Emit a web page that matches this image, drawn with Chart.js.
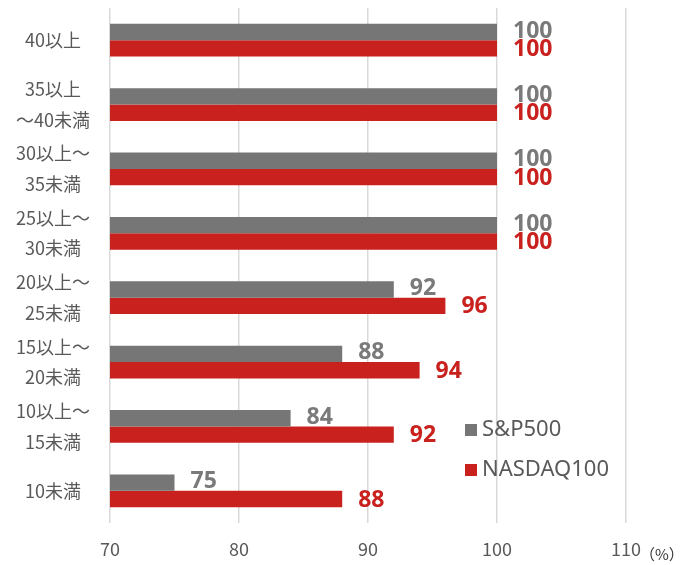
<!DOCTYPE html>
<html>
<head>
<meta charset="utf-8">
<script src="https://cdn.jsdelivr.net/npm/chart.js@4"></script>
<style>
  html, body { margin: 0; padding: 0; background: #fff; }
  #wrap { width: 695px; height: 565px; }
</style>
</head>
<body>
<div id="wrap"><canvas id="chart"></canvas></div>
<script>
(() => {
    // categories, top to bottom
    const categories = [
        ["40以上"],
        ["35以上", "～40未満"],
        ["30以上～", "35未満"],
        ["25以上～", "30未満"],
        ["20以上～", "25未満"],
        ["15以上～", "20未満"],
        ["10以上～", "15未満"],
        ["10未満"]
    ];
    const seriesNames = ["S&P500", "NASDAQ100"];
    const sp500 = [100, 100, 100, 100, 92, 88, 84, 75];
    const nasdaq100 = [100, 100, 100, 100, 96, 94, 92, 88];
    const xTicks = [70, 80, 90, 100, 110];

    const GRAY = "#767676";
    const RED = "#C9211E";
    const TEXT = "#595959";
    const JP = "'Noto Sans CJK JP', sans-serif";

    // value labels next to the bar ends
    const valueLabels = {
        id: "valueLabels",
        afterDatasetsDraw(chart) {
            const ctx = chart.ctx;
            ctx.save();
            ctx.font = "bold 23px 'Noto Sans', sans-serif";
            ctx.textAlign = "left";
            ctx.textBaseline = "middle";
            chart.data.datasets.forEach((ds, i) => {
                const meta = chart.getDatasetMeta(i);
                ctx.fillStyle = i === 0 ? "#7a7a7a" : RED;
                meta.data.forEach((bar, j) => {
                    ctx.fillText(String(ds.data[j]), bar.x + 16, bar.y + (i === 0 ? -1 : 1));
                });
            });
            ctx.restore();
        }
    };

    // legend inside the plot, plus the (%) unit
    const extras = {
        id: "extras",
        afterDraw(chart) {
            const ctx = chart.ctx;
            const area = chart.chartArea;
            const xs = chart.scales.x;
            ctx.save();
            ctx.font = "22px 'Noto Sans', sans-serif";
            ctx.textBaseline = "middle";
            ctx.textAlign = "left";
            const lx = area.right - 161;
            const rows = [430, 470];
            chart.data.datasets.forEach((ds, i) => {
                ctx.fillStyle = ds.backgroundColor;
                ctx.fillRect(lx, rows[i] - 6, 12, 12);
                ctx.fillStyle = TEXT;
                ctx.fillText(seriesNames[i], lx + 17, rows[i]);
            });
            ctx.font = "15px 'Noto Sans CJK JP', sans-serif";
            ctx.fillStyle = "#333";
            ctx.fillText("（%）", xs.getPixelForValue(110) + 14, area.bottom + 31);
            ctx.restore();
        }
    };

    new Chart(document.getElementById("chart"), {
        type: "bar",
        data: {
            labels: categories,
            datasets: [
                { label: seriesNames[0], data: sp500, backgroundColor: GRAY },
                { label: seriesNames[1], data: nasdaq100, backgroundColor: RED }
            ]
        },
        options: {
            indexAxis: "y",
            responsive: true,
            maintainAspectRatio: false,
            animation: false,
            layout: { padding: { top: 8, right: 69, left: 0, bottom: 0 } },
            datasets: { bar: { categoryPercentage: 0.51, barPercentage: 1.0 } },
            plugins: { legend: { display: false }, tooltip: { enabled: false } },
            scales: {
                x: {
                    min: 70,
                    max: 110,
                    afterBuildTicks(scale) { scale.ticks = xTicks.map(v => ({ value: v })); },
                    afterFit(scale) { scale.height = 42; },
                    grid: { color: "#d9d9d9", lineWidth: 1.5, drawTicks: false },
                    border: { display: false },
                    ticks: { color: TEXT, padding: 15, font: { size: 18, family: JP } }
                },
                y: {
                    afterFit(scale) {
                        scale.width = 110;
                        scale.paddingTop = 0;
                        scale.paddingBottom = 0;
                    },
                    grid: { display: false, drawTicks: false },
                    border: { display: false },
                    ticks: {
                        color: TEXT,
                        autoSkip: false,
                        crossAlign: "center",
                        padding: 20,
                        font: { size: 18, family: JP, lineHeight: 1.7 }
                    }
                }
            }
        },
        plugins: [valueLabels, extras]
    });
})();
</script>
</body>
</html>
